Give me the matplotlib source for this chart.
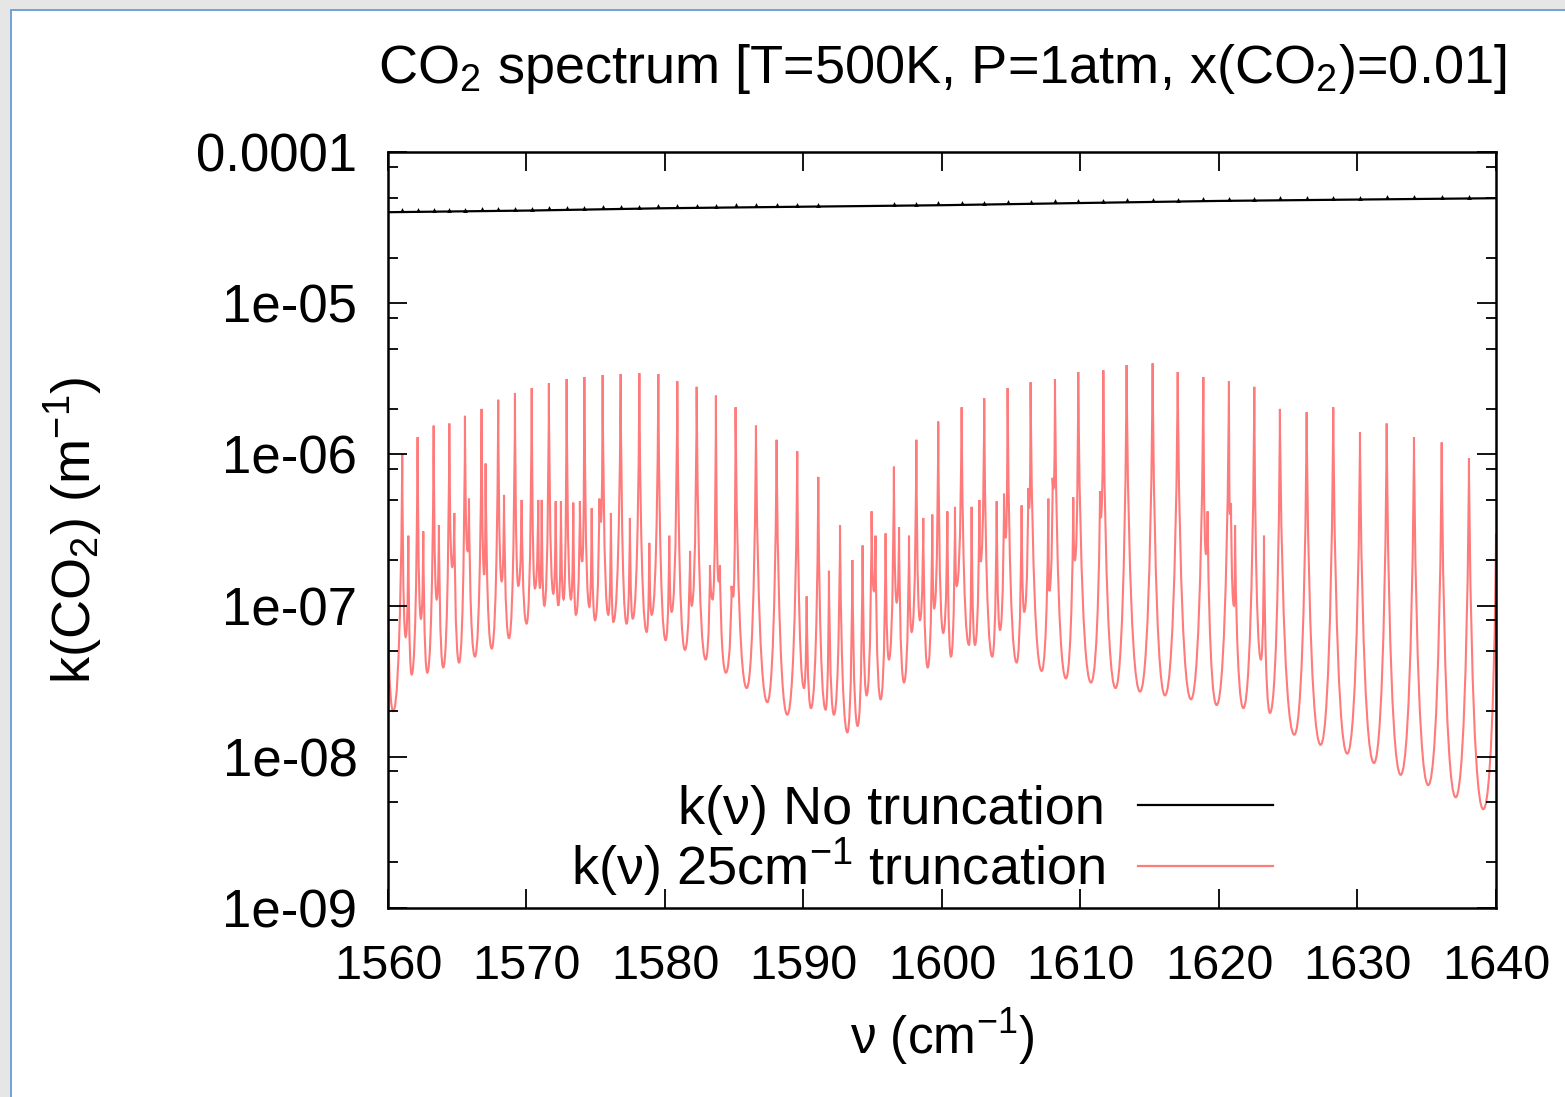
import numpy as np
import matplotlib
matplotlib.use("Agg")
import matplotlib.pyplot as plt
from matplotlib.path import Path
from matplotlib.patches import PathPatch, Rectangle
from matplotlib.lines import Line2D
from matplotlib.ticker import LogLocator, NullFormatter

plt.rcParams['font.family'] = ['Liberation Sans', 'DejaVu Sans']
plt.rcParams['mathtext.fontset'] = 'custom'
plt.rcParams['mathtext.rm'] = 'Liberation Sans'
plt.rcParams['mathtext.it'] = 'Liberation Sans:italic'

# red curve: alternating local minima / maxima
red_nu = [1560.00, 1560.38, 1561.03, 1561.28, 1561.47, 1561.71, 1562.14, 1562.38, 1562.55, 1562.84,
          1563.30, 1563.52, 1563.68, 1563.99, 1564.43, 1564.64, 1564.79, 1565.13, 1565.56, 1565.75,
          1565.85, 1566.28, 1566.76, 1566.95, 1567.05, 1567.49, 1567.96, 1568.21, 1568.38, 1568.74,
          1569.17, 1569.41, 1569.65, 1570.01, 1570.38, 1570.61, 1570.85, 1570.97, 1571.10, 1571.29,
          1571.62, 1571.94, 1572.11, 1572.30, 1572.49, 1572.68, 1572.90, 1573.21, 1573.38, 1573.57,
          1573.86, 1574.03, 1574.18, 1574.54, 1574.71, 1574.95, 1575.26, 1575.38, 1575.50, 1575.91,
          1576.10, 1576.27, 1576.80, 1577.23, 1577.47, 1577.67, 1578.15, 1578.68, 1578.87, 1579.04,
          1579.52, 1580.05, 1580.31, 1580.48, 1580.89, 1581.44, 1581.81, 1581.93, 1582.29, 1582.94,
          1583.25, 1583.44, 1583.68, 1583.87, 1583.97, 1584.40, 1584.81, 1584.93, 1585.10, 1585.90,
          1586.57, 1587.39, 1588.06, 1588.83, 1589.55, 1590.04, 1590.23, 1590.54, 1591.07, 1591.60,
          1591.84, 1592.20, 1592.64, 1593.17, 1593.53, 1593.91, 1594.27, 1594.56, 1594.92, 1595.09,
          1595.20, 1595.57, 1595.93, 1596.17, 1596.53, 1596.73, 1596.90, 1597.26, 1597.62, 1597.81,
          1598.15, 1598.41, 1598.65, 1598.97, 1599.30, 1599.44, 1599.73, 1600.09, 1600.39, 1600.65,
          1600.94, 1601.06, 1601.42, 1601.95, 1602.14, 1602.38, 1602.70, 1602.79, 1603.05, 1603.63,
          1603.95, 1604.19, 1604.48, 1604.60, 1604.74, 1605.39, 1605.75, 1605.94, 1606.23, 1606.30,
          1606.40, 1607.20, 1607.68, 1607.75, 1607.99, 1608.06, 1608.16, 1608.95, 1609.48, 1609.60,
          1609.84, 1610.76, 1611.41, 1611.47, 1611.65, 1612.53, 1613.33, 1614.30, 1615.21, 1616.10,
          1617.02, 1617.98, 1618.87, 1619.06, 1619.18, 1619.83, 1620.72, 1620.79, 1620.87, 1621.08,
          1621.16, 1621.76, 1622.55, 1623.03, 1623.25, 1623.68, 1624.40, 1625.44, 1626.33, 1627.34,
          1628.25, 1629.26, 1630.18, 1631.19, 1632.11, 1633.12, 1634.08, 1635.11, 1636.08, 1637.09,
          1638.05, 1639.08, 1640.00]
red_k = [1.0e-7, 2.0e-8, 1.0e-6, 6.2e-8, 2.9e-7, 3.5e-8, 1.3e-6, 8.2e-8, 3.1e-7, 3.6e-8,
         1.55e-6, 1.1e-7, 3.4e-7, 3.9e-8, 1.6e-6, 1.8e-7, 4.1e-7, 4.2e-8, 1.8e-6, 2.3e-7,
         5.1e-7, 4.6e-8, 2.0e-6, 1.6e-7, 8.7e-7, 5.2e-8, 2.3e-6, 1.45e-7, 5.4e-7, 6.1e-8,
         2.55e-6, 1.35e-7, 5.0e-7, 7.6e-8, 2.75e-6, 1.3e-7, 5.0e-7, 1.3e-7, 5.0e-7, 1.0e-7,
         2.95e-6, 1.2e-7, 4.9e-7, 1.0e-7, 4.9e-7, 1.1e-7, 3.15e-6, 1.1e-7, 4.8e-7, 8.7e-8,
         4.9e-7, 1.95e-7, 3.25e-6, 9.8e-8, 4.4e-7, 8.0e-8, 5.1e-7, 3.6e-7, 3.35e-6, 8.7e-8,
         4.1e-7, 7.8e-8, 3.4e-6, 7.6e-8, 3.8e-7, 8.2e-8, 3.45e-6, 6.7e-8, 2.6e-7, 8.7e-8,
         3.4e-6, 5.9e-8, 2.9e-7, 9.1e-8, 3.05e-6, 5.1e-8, 2.3e-7, 1.0e-7, 2.8e-6, 4.4e-8,
         1.85e-7, 1.1e-7, 2.45e-6, 1.45e-7, 1.85e-7, 3.6e-8, 1.35e-7, 1.15e-7, 2.05e-6, 2.85e-8,
         1.55e-6, 2.3e-8, 1.25e-6, 1.9e-8, 1.05e-6, 2.85e-8, 1.15e-7, 2.1e-8, 7.1e-7, 2.05e-8,
         1.7e-7, 1.9e-8, 3.4e-7, 1.45e-8, 2.0e-7, 1.6e-8, 2.5e-7, 2.55e-8, 4.2e-7, 1.25e-7,
         2.9e-7, 2.4e-8, 3.0e-7, 4.4e-8, 8.3e-7, 1.05e-7, 3.3e-7, 3.1e-8, 2.9e-7, 6.7e-8,
         1.25e-6, 8.0e-8, 3.8e-7, 3.9e-8, 4.0e-7, 9.6e-8, 1.65e-6, 6.6e-8, 4.2e-7, 4.6e-8,
         4.5e-7, 1.35e-7, 2.05e-6, 5.5e-8, 4.5e-7, 5.5e-8, 5.0e-7, 1.95e-7, 2.35e-6, 4.6e-8,
         4.9e-7, 6.9e-8, 5.5e-7, 2.8e-7, 2.75e-6, 4.2e-8, 4.6e-7, 9.1e-8, 6.0e-7, 4.4e-7,
         3.0e-6, 3.7e-8, 5.1e-7, 1.25e-7, 7.0e-7, 6.0e-7, 3.15e-6, 3.3e-8, 5.2e-7, 2.0e-7,
         3.5e-6, 3.1e-8, 5.7e-7, 3.8e-7, 3.6e-6, 2.85e-8, 3.9e-6, 2.7e-8, 4.0e-6, 2.55e-8,
         3.5e-6, 2.4e-8, 3.25e-6, 2.2e-7, 4.2e-7, 2.2e-8, 3.05e-6, 4.0e-7, 4.75e-7, 1.0e-7,
         3.4e-7, 2.1e-8, 2.8e-6, 4.4e-8, 2.9e-7, 1.95e-8, 2.0e-6, 1.4e-8, 1.9e-6, 1.2e-8,
         2.05e-6, 1.05e-8, 1.4e-6, 9.1e-9, 1.6e-6, 7.6e-9, 1.3e-6, 6.5e-9, 1.2e-6, 5.4e-9,
         9.4e-7, 4.5e-9, 3.0e-7]

# black curve (no truncation), nearly flat, with small bumps at the strong lines
black_nu = [1560, 1570, 1580, 1590, 1600, 1610, 1620, 1630, 1640]
black_k = [4.0e-5, 4.1e-5, 4.25e-5, 4.35e-5, 4.45e-5, 4.6e-5, 4.75e-5, 4.85e-5, 4.95e-5]
bump_nu = [1561.03, 1562.14, 1563.30, 1564.43, 1565.56, 1566.76, 1567.96, 1569.17, 1570.38, 1571.62,
           1572.90, 1574.18, 1575.50, 1576.80, 1578.15, 1579.52, 1580.89, 1582.29, 1583.68, 1585.10,
           1586.57, 1588.06, 1589.55, 1591.07, 1596.53, 1598.15, 1599.73, 1601.42, 1603.05, 1604.74,
           1606.40, 1608.16, 1609.84, 1611.65, 1613.33, 1615.21, 1617.02, 1618.87, 1620.72, 1622.55,
           1624.40, 1626.33, 1628.25, 1630.18, 1632.11, 1634.08, 1636.08, 1638.05]
bump_k = [4.12e-5, 4.13e-5, 4.14e-5, 4.15e-5, 4.16e-5, 4.18e-5, 4.2e-5, 4.21e-5, 4.22e-5, 4.24e-5,
          4.26e-5, 4.28e-5, 4.3e-5, 4.32e-5, 4.35e-5, 4.37e-5, 4.39e-5, 4.41e-5, 4.42e-5, 4.44e-5,
          4.45e-5, 4.47e-5, 4.48e-5, 4.49e-5, 4.55e-5, 4.56e-5, 4.58e-5, 4.6e-5, 4.63e-5, 4.66e-5,
          4.68e-5, 4.71e-5, 4.74e-5, 4.76e-5, 4.79e-5, 4.82e-5, 4.85e-5, 4.87e-5, 4.9e-5, 4.92e-5,
          4.94e-5, 4.96e-5, 4.97e-5, 4.99e-5, 5.01e-5, 5.03e-5, 5.05e-5, 5.07e-5]

yticks = [1e-9, 1e-8, 1e-7, 1e-6, 1e-5, 1e-4]
ytick_labels = ['1e-09', '1e-08', '1e-07', '1e-06', '1e-05', '0.0001']
xticks = [1560, 1570, 1580, 1590, 1600, 1610, 1620, 1630, 1640]


def spectrum_path(nu, k, p=0.8, q=0.9):
    # bezier through the extrema: flat at minima, steep at maxima
    verts = [(nu[0], k[0])]
    codes = [Path.MOVETO]
    for i in range(1, len(nu)):
        x0, y0, x1, y1 = nu[i - 1], k[i - 1], nu[i], k[i]
        if y1 > y0:
            c1 = (x0 + p * (x1 - x0), y0)
            c2 = (x1, y0 ** (1 - q) * y1 ** q)
        else:
            c1 = (x0, y1 ** (1 - q) * y0 ** q)
            c2 = (x1 - p * (x1 - x0), y1)
        verts += [c1, c2, (x1, y1)]
        codes += [Path.CURVE4] * 3
    return Path(verts, codes)


fig = plt.figure(figsize=(15.65, 10.97), dpi=100)
ax = fig.add_axes([0.2479, 0.1723, 0.708, 0.6891])

red_col = '#ff7a7a'
ax.add_patch(PathPatch(spectrum_path(red_nu, red_k), fill=False, edgecolor=red_col, lw=1.5))
ax.plot(black_nu, black_k, color='black', lw=1.6)
ax.plot(bump_nu, bump_k, ls='none', marker='^', ms=3.5, color='black', mew=0)

ax.set_yscale('log')
ax.set_xlim(1560, 1640)
ax.set_ylim(1e-9, 1e-4)
ax.set_xticks(xticks)
ax.set_xticklabels([str(v) for v in xticks])
ax.set_yticks(yticks)
ax.set_yticklabels(ytick_labels)
ax.yaxis.set_minor_locator(LogLocator(base=10, subs=[2, 5, 8]))
ax.yaxis.set_minor_formatter(NullFormatter())
ax.tick_params(which='both', direction='in', top=True, right=True, width=1.3)
ax.tick_params(which='major', length=14)
ax.tick_params(which='minor', length=7)
ax.tick_params(axis='x', which='major', labelsize=35, pad=26)
ax.tick_params(axis='y', which='major', labelsize=38, pad=22)
ax.tick_params(axis='x', which='minor', bottom=False, top=False)
for s in ax.spines.values():
    s.set_linewidth(1.8)

ax.set_title('CO$_2$ spectrum [T=500K, P=1atm, x(CO$_2$)=0.01]', fontsize=39, pad=50)
ax.set_xlabel('ν (cm$^{-1}$)', fontsize=37)
ax.set_ylabel('k(CO$_2$) (m$^{-1}$)', fontsize=39)
ax.xaxis.set_label_coords(0.5, -0.13)
ax.yaxis.set_label_coords(-0.255, 0.5)

handles = [Line2D([], [], color='black', lw=1.6), Line2D([], [], color=red_col, lw=1.6)]
labels = ['k(ν) No truncation', 'k(ν) 25cm$^{-1}$ truncation']
ax.legend(handles, labels, loc='lower right', bbox_to_anchor=(0.799, 0.012), frameon=False,
          markerfirst=False, fontsize=39, handlelength=2.5, handletextpad=0.6,
          labelspacing=0.02, borderpad=0, borderaxespad=0)

# screenshot window edge
fig.add_artist(Rectangle((0, 1 - 9 / 1097), 1, 9 / 1097, transform=fig.transFigure,
                         facecolor='#e6e6e6', edgecolor='none'))
fig.add_artist(Rectangle((0, 0), 10 / 1565, 1, transform=fig.transFigure,
                         facecolor='#e6e6e6', edgecolor='none'))
fig.add_artist(Rectangle((10 / 1565, 0), 2 / 1565, 1 - 9 / 1097, transform=fig.transFigure,
                         facecolor='#74a3d6', edgecolor='none'))
fig.add_artist(Rectangle((10 / 1565, 1 - 11 / 1097), 1, 2 / 1097, transform=fig.transFigure,
                         facecolor='#74a3d6', edgecolor='none'))

fig.savefig('out.png', dpi=100)
